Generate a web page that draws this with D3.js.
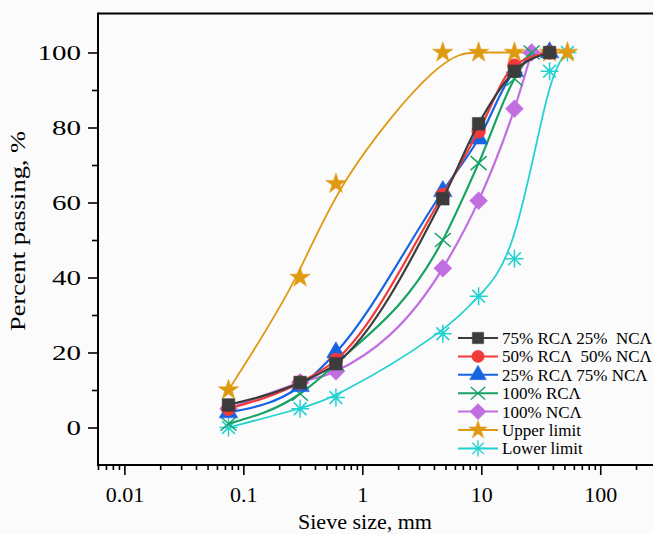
<!DOCTYPE html>
<html>
<head>
<meta charset="utf-8">
<script src="https://cdn.jsdelivr.net/npm/d3@7"></script>
<style>
  body { margin: 0; background: #fbfbfb; }
  svg { display: block; font-family: "Liberation Serif", "Times New Roman", serif; }
</style>
</head>
<body>
<div id="chart"></div>
<script>
// sieve sizes (mm)
const sieveMix = [0.075, 0.3, 0.6, 4.75, 9.5, 19, 37.5];
const sieveRca = [0.075, 0.3, 0.6, 4.75, 9.5, 19, 26.5];
const sieveNca = [0.075, 0.3, 0.6, 4.75, 9.5, 19, 26.5];
const sieveLimit = [0.075, 0.3, 0.6, 4.75, 9.5, 19, 37.5, 53];

// percent passing for each mix
const rca75 = [6, 12, 17, 61, 81, 95, 100];
const rca50 = [5, 12, 18, 62, 79, 96.5, 100];
const rca25 = [4, 11, 20, 63, 77, 95, 100];
const rca100 = [1, 9, 17, 50, 70.5, 93, 100];
const nca100 = [5, 12, 15, 42.5, 60.5, 85, 100];
const upperLimit = [10, 40, 65, 100, 100, 100, 100, 100];
const lowerLimit = [0, 5, 8, 25, 35, 45, 95, 100];

const seriesNames = ["75% RCΛ 25%  NCΛ", "50% RCΛ  50% NCΛ", "25% RCΛ 75% NCΛ",
  "100% RCΛ", "100% NCΛ", "Upper limit", "Lower limit"];

const xMajor = [0.01, 0.1, 1, 10, 100];
const yMajor = [0, 20, 40, 60, 80, 100];
const yMinor = [10, 30, 50, 70, 90];

const width = 653, height = 534;
const svg = d3.select("#chart").append("svg")
  .attr("width", width).attr("height", height);

const x = d3.scaleLog().domain([0.006, 300]).range([98, 657]);
const y = d3.scaleLinear().domain([-10, 110]).range([465, 15]);

// minor log ticks
const xMinor = [];
[0.001, 0.01, 0.1, 1, 10, 100].forEach(d => {
  for (let k = 2; k <= 9; k++) {
    const v = d * k;
    if (v >= 0.006 && v <= 300) xMinor.push(v);
  }
});

// the two grading limits are drawn as B-splines, the mixes as smooth lines through the points
const series = [
  { name: seriesNames[0], xs: sieveMix, ys: rca75, color: "#3c3c3c", sym: "square", curve: d3.curveMonotoneX },
  { name: seriesNames[1], xs: sieveMix, ys: rca50, color: "#f23a3a", sym: "circle", curve: d3.curveMonotoneX },
  { name: seriesNames[2], xs: sieveMix, ys: rca25, color: "#1764e3", sym: "triangle", curve: d3.curveMonotoneX },
  { name: seriesNames[3], xs: sieveRca, ys: rca100, color: "#17a263", sym: "x", curve: d3.curveMonotoneX },
  { name: seriesNames[4], xs: sieveNca, ys: nca100, color: "#c06ee0", sym: "diamond", curve: d3.curveMonotoneX },
  { name: seriesNames[5], xs: sieveLimit, ys: upperLimit, color: "#df9a12", sym: "star", curve: d3.curveBasis },
  { name: seriesNames[6], xs: sieveLimit, ys: lowerLimit, color: "#22d2d2", sym: "asterisk", curve: d3.curveBasis }
];

// frame: top line
svg.append("line").attr("x1", 98).attr("x2", width).attr("y1", 13.5).attr("y2", 13.5)
  .attr("stroke", "#000").attr("stroke-width", 2);

// x axis
const gx = svg.append("g").attr("transform", "translate(0,465)");
gx.call(d3.axisBottom(x).tickValues(xMajor).tickSize(10).tickPadding(11)
  .tickFormat(d => d >= 1 ? d3.format("d")(d) : String(d)));
gx.append("g").call(d3.axisBottom(x).tickValues(xMinor).tickSize(5).tickFormat(""));
gx.selectAll(".domain").remove();
gx.append("line").attr("x1", 97).attr("x2", width).attr("stroke", "#000").attr("stroke-width", 2);
gx.selectAll(".tick line").attr("stroke", "#000").attr("stroke-width", 1.6);
gx.selectAll(".tick text").attr("font-size", 22).attr("fill", "#000")
  .attr("font-family", "Liberation Serif");

// y axis
const gy = svg.append("g").attr("transform", "translate(98,0)");
gy.call(d3.axisLeft(y).tickValues(yMajor).tickSize(10));
gy.append("g").call(d3.axisLeft(y).tickValues(yMinor).tickSize(6).tickFormat(""));
gy.selectAll(".domain").remove();
gy.append("line").attr("y1", 12.5).attr("y2", 466).attr("stroke", "#000").attr("stroke-width", 2);
gy.selectAll(".tick line").attr("stroke", "#000").attr("stroke-width", 1.6);
gy.selectAll(".tick text").attr("font-size", 21).attr("fill", "#000")
  .attr("font-family", "Liberation Serif")
  .attr("x", 0).attr("transform", "translate(-17,0) scale(1.38,1)");

// axis titles
svg.append("text").attr("x", 365).attr("y", 529).attr("text-anchor", "middle")
  .attr("font-size", 21).attr("textLength", 134).attr("lengthAdjust", "spacingAndGlyphs")
  .text("Sieve size, mm");
svg.append("text").attr("transform", "translate(25,231) rotate(-90)")
  .attr("text-anchor", "middle").attr("font-size", 21)
  .attr("textLength", 200).attr("lengthAdjust", "spacingAndGlyphs")
  .text("Percent passing, %");

// marker shapes
function asteriskPath(r) {
  let p = "";
  for (let i = 0; i < 4; i++) {
    const a = i * Math.PI / 4;
    const dx = r * Math.cos(a), dy = r * Math.sin(a);
    p += `M${-dx},${-dy}L${dx},${dy}`;
  }
  return p;
}
function markerPath(sym) {
  switch (sym) {
    case "square": return d3.symbol(d3.symbolSquare, 160)();
    case "circle": return d3.symbol(d3.symbolCircle, 150)();
    case "triangle": return d3.symbol(d3.symbolTriangle, 150)();
    case "diamond": return "M0,-9L9,0L0,9L-9,0Z";
    case "star": return d3.symbol(d3.symbolStar, 130)();
    case "x": return "M-8,-7L8,7M-8,7L8,-7";
    case "asterisk": return asteriskPath(9);
  }
}
const stroked = s => s === "x" || s === "asterisk";

// draw in reverse so the first series is on top
series.slice().reverse().forEach(s => {
  const pts = s.xs.map((v, i) => [x(v), y(s.ys[i])]);
  const line = d3.line().curve(s.curve);
  svg.append("path").attr("d", line(pts)).attr("fill", "none")
    .attr("stroke", s.color).attr("stroke-width", s.sym === "star" || s.sym === "asterisk" ? 1.8 : 2.2);
  svg.append("g").selectAll("path").data(pts).join("path")
    .attr("transform", d => `translate(${d[0]},${d[1]})`)
    .attr("d", markerPath(s.sym))
    .attr("fill", stroked(s.sym) ? "none" : s.color)
    .attr("stroke", s.color).attr("stroke-width", stroked(s.sym) ? 1.5 : 0.5);
});

// legend
const legend = svg.append("g");
series.forEach((s, i) => {
  const ly = 338 + i * 18.4;
  const g = legend.append("g").attr("transform", `translate(0,${ly})`);
  g.append("line").attr("x1", 458).attr("x2", 498).attr("stroke", s.color).attr("stroke-width", 2);
  g.append("path").attr("transform", "translate(478,0) scale(0.9)").attr("d", markerPath(s.sym))
    .attr("fill", stroked(s.sym) ? "none" : s.color)
    .attr("stroke", s.color).attr("stroke-width", stroked(s.sym) ? 1.5 : 0.5);
  g.append("text").attr("x", 502).attr("y", 6).attr("font-size", 17)
    .attr("xml:space", "preserve").style("white-space", "pre").text(s.name);
});
</script>
</body>
</html>
